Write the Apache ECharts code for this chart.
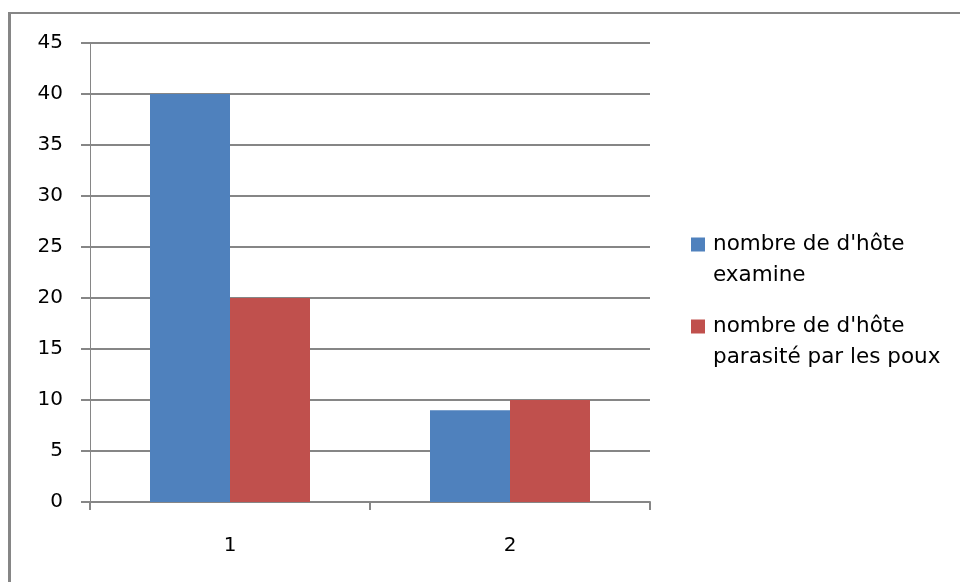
<!DOCTYPE html>
<html>
<head>
<meta charset="utf-8">
<script src="https://cdn.jsdelivr.net/npm/echarts@6/dist/echarts.min.js"></script>
<style>
  html, body { margin: 0; padding: 0; background: #fff; }
  #chart { width: 960px; height: 582px; }
</style>
</head>
<body>
<div id="chart"></div>
<script>
// Categories and series values
const categories = ['1', '2'];
const hostsExamined = [40, 9];
const hostsWithLice = [20, 10];
const seriesNames = ["nombre de d'hôte\nexamine", "nombre de d'hôte\nparasité par les poux"];

// Value axis range
const yMin = 0;
const yMax = 45;
const yStep = 5;

const gridColor = '#868686';
const fontFamily = '"DejaVu Sans", Verdana, sans-serif';

const chart = echarts.init(document.getElementById('chart'), null, { renderer: 'canvas' });

chart.setOption({
  backgroundColor: '#ffffff',
  animation: false,
  graphic: [
    // outer frame (top and left edges)
    { type: 'line', shape: { x1: 9, y1: 13, x2: 960, y2: 13 }, style: { stroke: gridColor, lineWidth: 2 } },
    { type: 'line', shape: { x1: 9.5, y1: 12, x2: 9.5, y2: 582 }, style: { stroke: gridColor, lineWidth: 3 } }
  ],
  grid: { left: 90, right: 310, top: 43, bottom: 80, containLabel: false },
  legend: {
    orient: 'vertical',
    left: 691,
    top: 198,
    padding: 0,
    itemWidth: 14,
    itemHeight: 14,
    itemGap: -11,
    icon: 'rect',
    selectedMode: false,
    // a leading empty line keeps the first text line level with the swatch
    formatter: function (name) { return '\n' + name; },
    textStyle: {
      fontFamily: fontFamily,
      fontSize: 21.5,
      color: '#000',
      lineHeight: 31,
      padding: [0, 0, 0, 3]
    },
    data: seriesNames
  },
  xAxis: {
    type: 'category',
    data: categories,
    boundaryGap: true,
    axisLine: { show: true, lineStyle: { color: gridColor, width: 2 } },
    axisTick: { show: true, length: 8, alignWithLabel: false, lineStyle: { color: gridColor, width: 2 } },
    axisLabel: { fontFamily: fontFamily, fontSize: 20, color: '#000', margin: 34 },
    splitLine: { show: false }
  },
  yAxis: {
    type: 'value',
    min: yMin,
    max: yMax,
    interval: yStep,
    axisLine: { show: true, lineStyle: { color: gridColor, width: 1 } },
    axisTick: { show: true, length: 9, lineStyle: { color: gridColor, width: 2 } },
    axisLabel: { fontFamily: fontFamily, fontSize: 20, color: '#000', margin: 27 },
    splitLine: { show: true, lineStyle: { color: gridColor, width: 2 } }
  },
  series: [
    {
      name: seriesNames[0],
      type: 'bar',
      data: hostsExamined,
      barWidth: 80,
      barGap: '0%',
      itemStyle: { color: '#4F81BD' }
    },
    {
      name: seriesNames[1],
      type: 'bar',
      data: hostsWithLice,
      barWidth: 80,
      barGap: '0%',
      itemStyle: { color: '#C0504D' }
    }
  ]
});
</script>
</body>
</html>
